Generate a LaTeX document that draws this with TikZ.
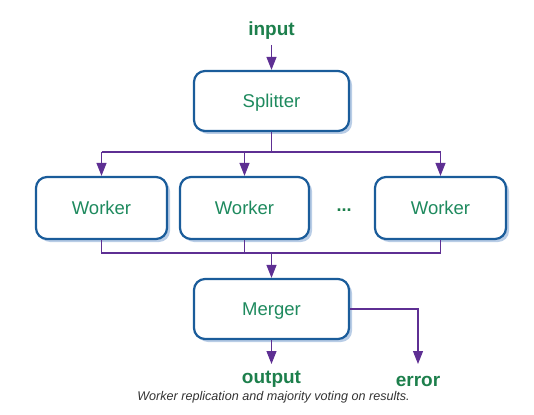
\documentclass[tikz,border=0pt]{standalone}
\usepackage{fontspec}
\setmainfont{Liberation Sans}
\usetikzlibrary{arrows.meta}
\definecolor{boxblue}{HTML}{1A5C9A}
\definecolor{shadowblue}{HTML}{B9CDE6}
\definecolor{txtgreen}{HTML}{1E8A5E}
\definecolor{lblgreen}{HTML}{1D7F4C}
\definecolor{arrpurple}{HTML}{5E2F93}
\definecolor{capgray}{HTML}{333333}
\tikzset{
  procbox/.style={draw=boxblue, line width=2.2pt, rounded corners=11pt, fill=white,
    text=txtgreen, font=\fontsize{18.5}{21}\selectfont, inner sep=0pt,
    minimum height=60pt, text depth=0pt},
  lbl/.style={text=lblgreen, font=\bfseries\fontsize{19}{22}\selectfont, inner sep=0pt},
  conn/.style={draw=arrpurple, line width=1.1pt},
  arr/.style={conn, -{Triangle[length=13pt,width=10pt]}},
}
\begin{document}
\begin{tikzpicture}[x=1pt,y=-1pt]
\useasboundingbox (0,0) rectangle (534,414);
% shadows
\foreach \xa/\ya/\xb/\yb in {194/71/349/131, 36/177/167/239, 180/177/309/239, 375/177/506/239, 194/279/349/339}{
  \fill[shadowblue] [rounded corners=11pt] (\xa+3,\ya+3) rectangle (\xb+3,\yb+3);
}
\node[procbox, minimum width=155pt] (split) at (271.5,101) {Splitter};
\node[procbox, minimum width=131pt, minimum height=62pt] (w1) at (101.5,208) {Worker};
\node[procbox, minimum width=129pt, minimum height=62pt] (w2) at (244.5,208) {Worker};
\node[procbox, minimum width=131pt, minimum height=62pt] (w3) at (440.5,208) {Worker};
\node[text=lblgreen, font=\bfseries\fontsize{18}{21}\selectfont] (dots) at (344,210) {...};
\node[procbox, minimum width=155pt] (merge) at (271.5,309) {Merger};

\node[lbl] (in) at (271.5,31) {input};
\node[lbl] (out) at (271.5,379) {output};
\node[lbl] (err) at (418,381) {error};
\node[text=capgray, font=\itshape\fontsize{12.6}{14}\selectfont, inner sep=0pt] (cap) at (273.5,397) {Worker replication and majority voting on results.};

\coordinate (inA) at (271.5,45);
\draw[arr] (inA) -- (split.north);

\coordinate (sb) at (271.5,152);
\draw[conn] (split.south) -- (sb);
\draw[conn] (w1.north |- sb) -- (w3.north |- sb);
\draw[arr] (w1.north |- sb) -- (w1.north);
\draw[arr] (w2.north |- sb) -- (w2.north);
\draw[arr] (w3.north |- sb) -- (w3.north);

\coordinate (mb) at (271.5,253);
\draw[conn] (w1.south) -- (w1.south |- mb) -- (w3.south |- mb) -- (w3.south);
\draw[conn] (w2.south) -- (w2.south |- mb);
\draw[arr] (mb) -- (merge.north);

\coordinate (outA) at (271.5,364);
\draw[arr] (merge.south) -- (outA);
\coordinate (errA) at (418,364);
\draw[arr] (merge.east) -| (errA);
\end{tikzpicture}
\end{document}
